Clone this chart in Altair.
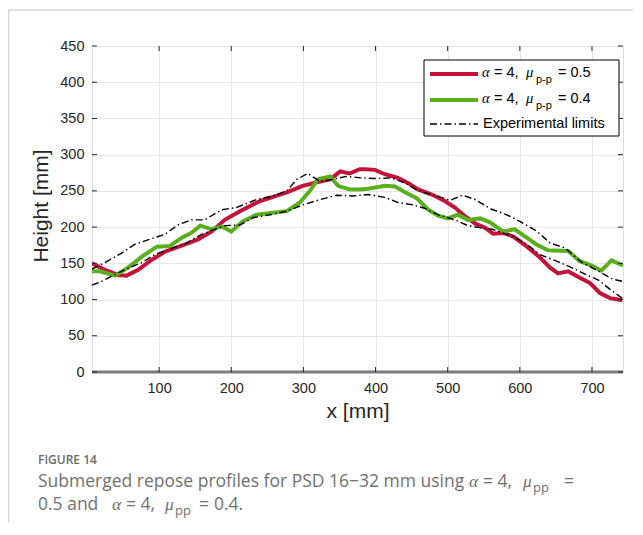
import altair as alt
import pandas as pd

# ---- data ----
red_x = [7, 25, 43, 55, 71, 90, 108, 136, 154, 173, 191, 212, 240, 277, 299, 323, 337, 351, 364, 378,
         385, 399, 413, 431, 445, 459, 478, 496, 510, 524, 538, 552, 563, 577, 591, 610, 628, 642, 653,
         667, 683, 697, 711, 725, 742]
red_y = [150, 141, 134, 133, 141, 155, 166, 176, 183, 194, 210, 222, 236, 248, 257, 263, 266, 277, 274, 280,
         280, 279, 273, 268, 261, 252, 245, 236, 227, 215, 205, 199, 191, 192, 187, 173, 158, 144, 136,
         139, 130, 123, 109, 102, 99]

green_x = [7, 18, 39, 57, 77, 97, 115, 131, 145, 157, 173, 187, 200, 216, 235, 258, 277, 295, 309, 320,
           337, 348, 364, 378, 390, 413, 427, 441, 457, 473, 486, 500, 514, 528, 545, 558, 577, 593, 610,
           623, 639, 667, 683, 697, 713, 727, 743]
green_y = [139, 139, 133, 144, 160, 173, 174, 185, 192, 202, 197, 201, 194, 208, 217, 220, 222, 234, 250, 266,
           270, 257, 252, 252, 253, 257, 256, 248, 240, 224, 216, 212, 217, 210, 212, 207, 194, 197, 185,
           176, 168, 167, 153, 148, 140, 154, 147]

upper_x = [7, 25, 48, 66, 89, 108, 126, 145, 163, 187, 207, 235, 258, 277, 291, 306, 323, 341, 360, 380,
           400, 422, 441, 459, 482, 503, 521, 538, 560, 582, 600, 624, 642, 663, 685, 711, 729, 743]
upper_y = [142, 151, 164, 176, 184, 190, 203, 210, 210, 224, 227, 238, 243, 250, 266, 274, 263, 266, 270, 268,
           267, 268, 261, 250, 244, 237, 244, 238, 225, 217, 208, 194, 178, 171, 152, 138, 128, 125]

lower_x = [7, 20, 34, 52, 76, 94, 112, 136, 159, 177, 191, 212, 230, 254, 277, 300, 323, 346, 369, 390,
           413, 431, 450, 468, 487, 510, 528, 552, 562, 591, 610, 628, 651, 672, 693, 709, 725, 743]
lower_y = [120, 125, 132, 141, 151, 162, 169, 177, 190, 197, 202, 203, 213, 217, 222, 231, 238, 244, 243, 245,
           241, 234, 231, 226, 217, 210, 202, 198, 197, 187, 176, 162, 153, 144, 134, 127, 114, 101]

x_ticks = [100, 200, 300, 400, 500, 600, 700]
y_ticks = [0, 50, 100, 150, 200, 250, 300, 350, 400, 450]
x_domain = [7, 743]
y_domain = [0, 450]

RED = "#C4133A"
GREEN = "#5BAF1E"
W, H = 531, 326
SANS = "Liberation Sans"
SERIF = "Liberation Serif"
CAP = "Open Sans"
CAPCOL = "#707070"
INK = "#262626"

xs = alt.Scale(domain=x_domain, nice=False, zero=False)
ys = alt.Scale(domain=y_domain, nice=False, zero=False)

one = pd.DataFrame({"a": [0]})

X_AXIS = alt.Axis(values=x_ticks, title=None, ticks=False, domain=False, labelPadding=9,
                  labelFont=SANS, labelFontSize=14.5, labelColor=INK, labelOverlap=False,
                  labelFlush=False, gridColor="#e6e6e6", grid=True)
Y_AXIS = alt.Axis(values=y_ticks, title=None, ticks=False, domain=False, labelPadding=8,
                  labelFont=SANS, labelFontSize=14.5, labelColor=INK, labelOverlap=False,
                  labelFlush=False, labelBound=False, gridColor="#e6e6e6", grid=True)


def X(field):
    return alt.X(field, scale=xs, axis=X_AXIS)


def Y(field):
    return alt.Y(field, scale=ys, axis=Y_AXIS)


def series_layer(xv, yv, color, width, dash=None):
    df = pd.DataFrame({"x": xv, "h": yv})
    kw = dict(color=color, strokeWidth=width, clip=True)
    if dash:
        kw["strokeDash"] = dash
    return alt.Chart(df).mark_line(**kw).encode(x=X("x:Q"), y=Y("h:Q"))


def txt(s, x, y, size, font=SANS, color="#000000", style="normal", align="left",
        baseline="middle", angle=0, weight="normal"):
    return alt.Chart(one).mark_text(
        text=s, font=font, fontSize=size, color=color, fontStyle=style, align=align,
        baseline=baseline, angle=angle, fontWeight=weight
    ).encode(x=alt.value(x), y=alt.value(y))


DASHDOT = [7, 3, 1.5, 3]

layers = []
# floor line
layers.append(alt.Chart(pd.DataFrame({"v": [0]})).mark_rule(color="#7a7a7a", strokeWidth=3).encode(
    y=Y("v:Q"), x=alt.value(0), x2=alt.value(W)))

layers.append(series_layer(red_x, red_y, RED, 4))
layers.append(series_layer(green_x, green_y, GREEN, 4))
layers.append(series_layer(upper_x, upper_y, "#000000", 1.4, DASHDOT))
layers.append(series_layer(lower_x, lower_y, "#000000", 1.4, DASHDOT))

# inward ticks
ydf = pd.DataFrame({"v": y_ticks})
xdf = pd.DataFrame({"v": x_ticks})
layers.append(alt.Chart(ydf).mark_rule(color=INK, strokeWidth=1).encode(
    y=Y("v:Q"), x=alt.value(0), x2=alt.value(5)))
layers.append(alt.Chart(ydf).mark_rule(color=INK, strokeWidth=1).encode(
    y=Y("v:Q"), x=alt.value(W - 5), x2=alt.value(W)))
layers.append(alt.Chart(xdf).mark_rule(color=INK, strokeWidth=1).encode(
    x=X("v:Q"), y=alt.value(H - 5), y2=alt.value(H)))
layers.append(alt.Chart(xdf).mark_rule(color=INK, strokeWidth=1).encode(
    x=X("v:Q"), y=alt.value(0), y2=alt.value(5)))

# axis titles
layers.append(txt("Height [mm]", -50, 160, 21, angle=270, align="center", color=INK))
layers.append(txt("x [mm]", 266, 366, 21, align="center", color=INK))

# legend
layers.append(alt.Chart(one).mark_rect(fill="white", stroke="#000000", strokeWidth=1).encode(
    x=alt.value(332), x2=alt.value(527), y=alt.value(14), y2=alt.value(90)))
layers.append(alt.Chart(one).mark_rule(color=RED, strokeWidth=4).encode(
    x=alt.value(338), x2=alt.value(386), y=alt.value(28)))
layers.append(alt.Chart(one).mark_rule(color=GREEN, strokeWidth=4).encode(
    x=alt.value(338), x2=alt.value(386), y=alt.value(54)))
layers.append(alt.Chart(one).mark_rule(color="#000000", strokeWidth=1.4, strokeDash=DASHDOT).encode(
    x=alt.value(338), x2=alt.value(386), y=alt.value(78)))
for yy, val in [(27, "= 0.5"), (53, "= 0.4")]:
    layers.append(txt("α", 390, yy, 14.5, font=SERIF, style="italic"))
    layers.append(txt("= 4,", 402, yy, 14.5))
    layers.append(txt("μ", 434, yy, 14.5, font=SERIF, style="italic"))
    layers.append(txt("p-p", 444, yy + 7, 11))
    layers.append(txt(val, 466, yy, 14.5))
layers.append(txt("Experimental limits", 391, 78, 14.5))

# card border
layers.append(alt.Chart(one).mark_rule(color="#d4d4d4", strokeWidth=1.5).encode(
    x=alt.value(-84), x2=alt.value(W + 12), y=alt.value(-36)))
layers.append(alt.Chart(one).mark_rule(color="#d4d4d4", strokeWidth=1.5).encode(
    x=alt.value(-83.5), y=alt.value(-36), y2=alt.value(H + 160)))

# caption
CS = 17.5
layers.append(txt("FIGURE 14", -54, 414, 12, font=CAP, color="#6a6a6a", weight=600))
layers.append(txt("Submerged repose profiles for PSD 16\u221232 mm using", -54, 436, CS, font=CAP, color=CAPCOL))
layers.append(txt("α", 377, 436, CS, font=SERIF, style="italic", color=CAPCOL))
layers.append(txt("= 4,", 391, 436, CS, font=CAP, color=CAPCOL))
layers.append(txt("μ", 431, 436, CS, font=SERIF, style="italic", color=CAPCOL))
layers.append(txt("pp", 441, 442, 13, font=CAP, color=CAPCOL))
layers.append(txt("=", 472, 436, CS, font=CAP, color=CAPCOL))
layers.append(txt("0.5 and", -54, 459, CS, font=CAP, color=CAPCOL))
layers.append(txt("α", 20, 459, CS, font=SERIF, style="italic", color=CAPCOL))
layers.append(txt("= 4,", 34, 459, CS, font=CAP, color=CAPCOL))
layers.append(txt("μ", 73, 459, CS, font=SERIF, style="italic", color=CAPCOL))
layers.append(txt("pp", 83, 465, 13, font=CAP, color=CAPCOL))
layers.append(txt("=", 107, 459, CS, font=CAP, color=CAPCOL))
layers.append(txt("0.4.", 122, 459, CS, font=CAP, color=CAPCOL))

chart = alt.layer(*layers).properties(
    width=W, height=H,
    autosize=alt.AutoSizeParams(type="none"),
    padding={"left": 84, "top": 38, "right": 10, "bottom": 150},
).configure_view(stroke="#000000", strokeWidth=1).configure(background="white")

chart.save("out.html", embed_options={"renderer": "svg", "actions": False})
